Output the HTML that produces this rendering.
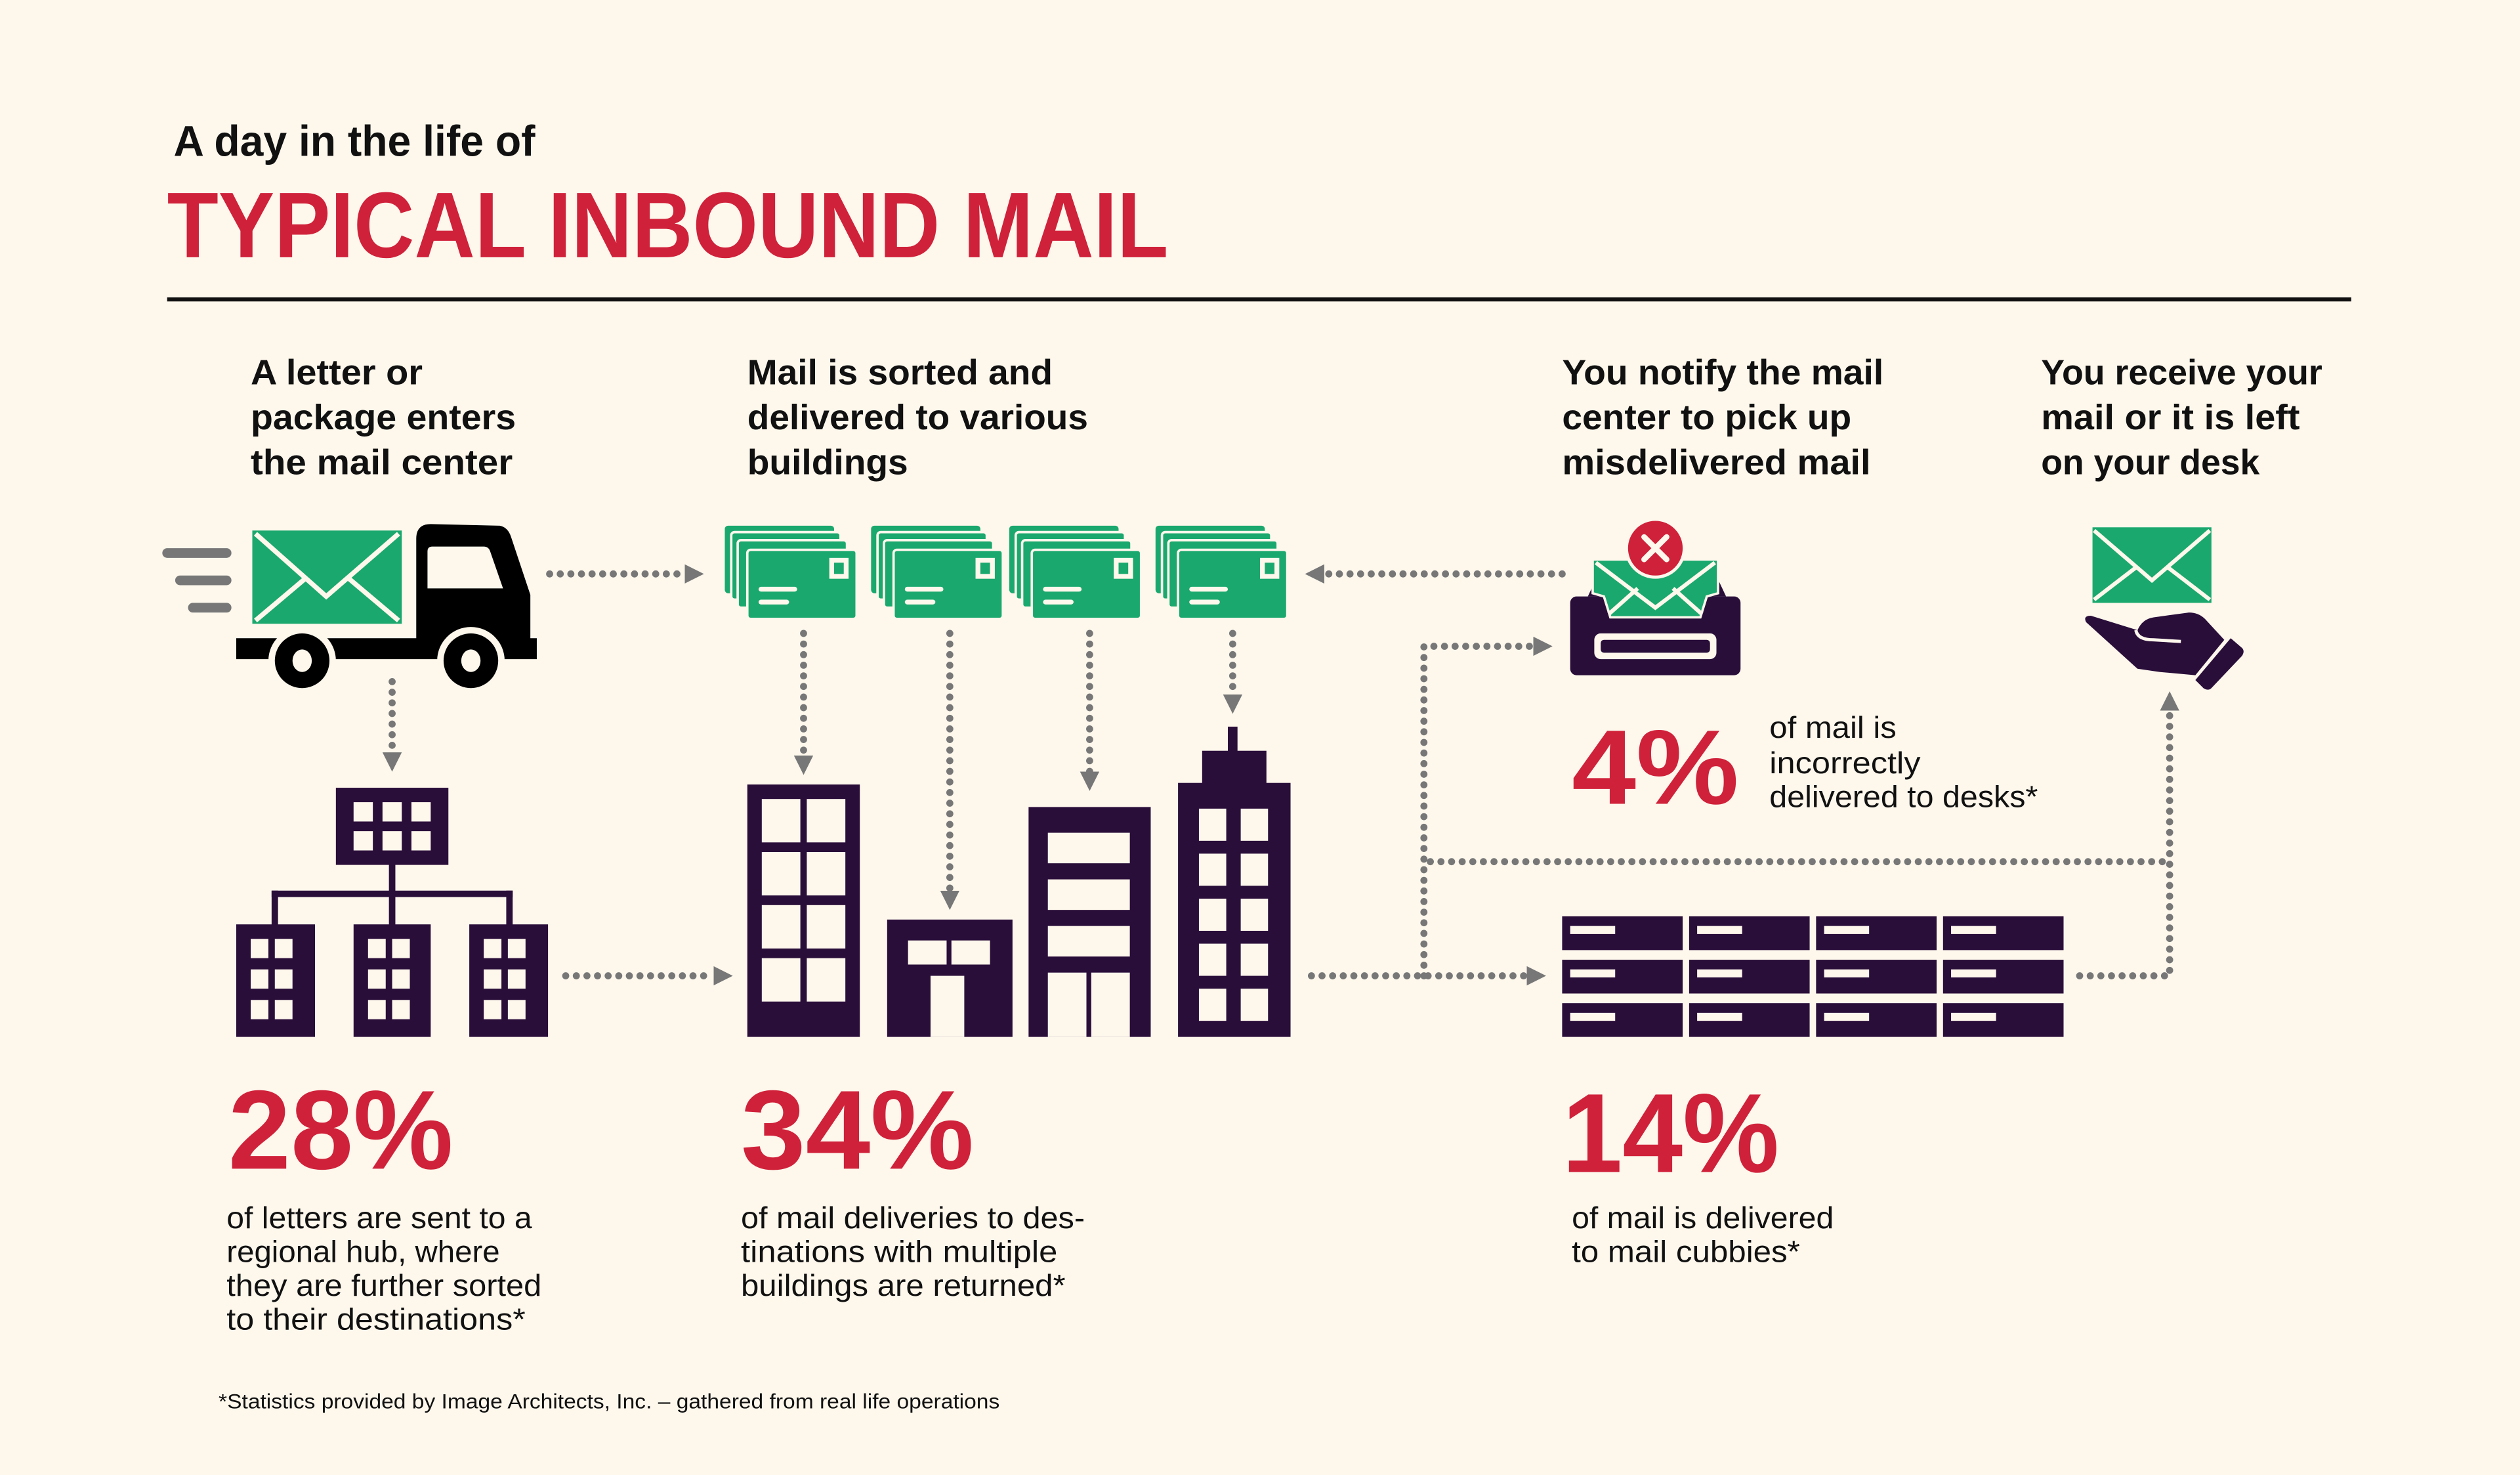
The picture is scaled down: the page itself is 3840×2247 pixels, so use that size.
<!DOCTYPE html>
<html><head><meta charset="utf-8"><style>
html,body{margin:0;padding:0;background:#fdf7ec;}
svg{display:block;}
text{font-family:"Liberation Sans",sans-serif;}
</style></head><body>
<svg width="3840" height="2247" viewBox="0 0 1568 917.5" xmlns="http://www.w3.org/2000/svg">
<defs>
<marker id="ah" viewBox="0 0 10 10" refX="0" refY="5" markerWidth="12" markerHeight="12" markerUnits="userSpaceOnUse" orient="auto"><path d="M0,0 L10,5 L0,10 z" fill="#777"/></marker>
</defs>
<rect width="1568" height="918" fill="#fdf7ec"/>
<text x="108" y="97" font-size="27" font-weight="bold" fill="#111" textLength="225" lengthAdjust="spacingAndGlyphs">A day in the life of</text>
<text x="104" y="160" font-size="58" font-weight="bold" fill="#d0213a" textLength="623" lengthAdjust="spacingAndGlyphs">TYPICAL INBOUND MAIL</text>
<rect x="104" y="185" width="1359" height="2.5" fill="#111"/>
<g font-size="22" font-weight="bold" fill="#111">
<text x="156" y="239" textLength="107" lengthAdjust="spacingAndGlyphs">A letter or</text>
<text x="156" y="267" textLength="165" lengthAdjust="spacingAndGlyphs">package enters</text>
<text x="156" y="295" textLength="163" lengthAdjust="spacingAndGlyphs">the mail center</text>
<text x="465" y="239" textLength="190" lengthAdjust="spacingAndGlyphs">Mail is sorted and</text>
<text x="465" y="267" textLength="212" lengthAdjust="spacingAndGlyphs">delivered to various</text>
<text x="465" y="295" textLength="100" lengthAdjust="spacingAndGlyphs">buildings</text>
<text x="972" y="239" textLength="200" lengthAdjust="spacingAndGlyphs">You notify the mail</text>
<text x="972" y="267" textLength="180" lengthAdjust="spacingAndGlyphs">center to pick up</text>
<text x="972" y="295" textLength="192" lengthAdjust="spacingAndGlyphs">misdelivered mail</text>
<text x="1270" y="239" textLength="175" lengthAdjust="spacingAndGlyphs">You receive your</text>
<text x="1270" y="267" textLength="161" lengthAdjust="spacingAndGlyphs">mail or it is left</text>
<text x="1270" y="295" textLength="136" lengthAdjust="spacingAndGlyphs">on your desk</text>
</g>
<g fill="none" stroke="#777" stroke-width="4.4" stroke-linecap="round" stroke-dasharray="0 6.6">
<path d="M342,357 L426,357" marker-end="url(#ah)"/>
<path d="M972,357 L824,357" marker-end="url(#ah)"/>
<path d="M244,424 L244,468" marker-end="url(#ah)"/>
<path d="M500,394 L500,470" marker-end="url(#ah)"/>
<path d="M591,394 L591,554" marker-end="url(#ah)"/>
<path d="M678,394 L678,480" marker-end="url(#ah)"/>
<path d="M767,394 L767,432" marker-end="url(#ah)"/>
<path d="M352,607 L444,607" marker-end="url(#ah)"/>
<path d="M816,607 L950,607" marker-end="url(#ah)"/>
<path d="M886,607 L886,402 L954,402" marker-end="url(#ah)"/>
<path d="M890,536 L1350,536"/>
<path d="M1294,607 L1350,607 L1350,442" marker-end="url(#ah)"/>
</g>
<g stroke="#777" stroke-width="6" stroke-linecap="round">
<line x1="104" y1="344" x2="141" y2="344"/>
<line x1="112" y1="361" x2="141" y2="361"/>
<line x1="120" y1="378" x2="141" y2="378"/>
</g>
<g>
<path d="M259,335 Q259,326 268,326 L311,327 Q316,328 318,334 L330,370 L330,397 L334,397 L334,410 L147,410 L147,397 L259,397 Z" fill="#000"/>
<path d="M266,343 Q266,340 269,340 L301,340 Q304,340 305,343 L313,366 L266,366 Z" fill="#fdf7ec"/>
<circle cx="188" cy="411" r="21" fill="#fdf7ec"/><circle cx="188" cy="411" r="17" fill="#000"/><ellipse cx="188" cy="411" rx="6" ry="7" fill="#fdf7ec"/>
<circle cx="293" cy="411" r="21" fill="#fdf7ec"/><circle cx="293" cy="411" r="17" fill="#000"/><ellipse cx="293" cy="411" rx="6" ry="7" fill="#fdf7ec"/>
<rect x="157" y="330" width="93" height="58" fill="#1aa86e"/>
<path d="M159,332 L203,371 L248,332 M159,386 L191,359 M248,386 L216,359" fill="none" stroke="#fdf7ec" stroke-width="3"/>
</g>
<g id="stk">
<rect x="451" y="327" width="68" height="42" rx="2" fill="#1aa86e"/>
<rect x="455" y="331" width="68" height="42" rx="2" fill="#1aa86e" stroke="#fdf7ec" stroke-width="1.5"/>
<rect x="459" y="336" width="68" height="42" rx="2" fill="#1aa86e" stroke="#fdf7ec" stroke-width="1.5"/>
<rect x="465" y="342" width="68" height="43" rx="2" fill="#1aa86e" stroke="#fdf7ec" stroke-width="1.5"/>
<rect x="516" y="347" width="12" height="13" fill="#fdf7ec"/><rect x="519" y="350" width="6" height="7" fill="#1aa86e"/>
<rect x="472" y="365" width="24" height="3" rx="1.5" fill="#fdf7ec"/>
<rect x="472" y="373" width="19" height="3" rx="1.5" fill="#fdf7ec"/>
</g>
<use href="#stk" x="91"/>
<use href="#stk" x="177"/>
<use href="#stk" x="268"/>
<g fill="#2a0e3a">
<rect x="209" y="490" width="70" height="48"/>
<rect x="242" y="536" width="4" height="40"/>
<rect x="169" y="554" width="150" height="4"/>
<rect x="169" y="554" width="4" height="22"/><rect x="315" y="554" width="4" height="22"/>
<rect x="147" y="575" width="49" height="70"/>
<rect x="220" y="575" width="48" height="70"/>
<rect x="292" y="575" width="49" height="70"/>
</g>
<g fill="#fdf7ec">
<rect x="220" y="499" width="12" height="12"/><rect x="238" y="499" width="12" height="12"/><rect x="256" y="499" width="12" height="12"/>
<rect x="220" y="517" width="12" height="12"/><rect x="238" y="517" width="12" height="12"/><rect x="256" y="517" width="12" height="12"/>
</g>
<g id="hb" fill="#fdf7ec">
<rect x="156" y="584" width="11" height="12"/><rect x="171" y="584" width="11" height="12"/>
<rect x="156" y="603" width="11" height="12"/><rect x="171" y="603" width="11" height="12"/>
<rect x="156" y="622" width="11" height="12"/><rect x="171" y="622" width="11" height="12"/>
</g>
<use href="#hb" x="73"/><use href="#hb" x="145"/>
<g fill="#2a0e3a">
<rect x="465" y="488" width="70" height="157"/>
<rect x="552" y="572" width="78" height="73"/>
<rect x="640" y="502" width="76" height="143"/>
<rect x="733" y="487" width="70" height="158"/>
<rect x="748" y="467" width="40" height="22"/>
<rect x="764" y="452" width="6" height="17"/>
</g>
<g fill="#fdf7ec">
<rect x="474" y="497" width="24" height="27"/><rect x="502" y="497" width="24" height="27"/>
<rect x="474" y="530" width="24" height="27"/><rect x="502" y="530" width="24" height="27"/>
<rect x="474" y="563" width="24" height="27"/><rect x="502" y="563" width="24" height="27"/>
<rect x="474" y="596" width="24" height="27"/><rect x="502" y="596" width="24" height="27"/>
<rect x="565" y="585" width="24" height="15"/><rect x="592" y="585" width="24" height="15"/>
<rect x="579" y="607" width="21" height="38"/>
<rect x="652" y="518" width="51" height="19"/>
<rect x="652" y="547" width="51" height="19"/>
<rect x="652" y="576" width="51" height="19"/>
<rect x="652" y="605" width="24" height="40"/><rect x="679" y="605" width="24" height="40"/>
<rect x="746" y="503" width="17" height="20"/><rect x="772" y="503" width="17" height="20"/>
<rect x="746" y="531" width="17" height="20"/><rect x="772" y="531" width="17" height="20"/>
<rect x="746" y="559" width="17" height="20"/><rect x="772" y="559" width="17" height="20"/>
<rect x="746" y="587" width="17" height="20"/><rect x="772" y="587" width="17" height="20"/>
<rect x="746" y="615" width="17" height="20"/><rect x="772" y="615" width="17" height="20"/>
</g>
<g>
<path d="M988,371 L996,354 L1066,354 L1074,371 Z" fill="#2a0e3a"/>
<rect x="977" y="371" width="106" height="49" rx="4" fill="#2a0e3a"/>
<rect x="992" y="394" width="76" height="16" rx="4" fill="#fdf7ec"/>
<rect x="996" y="398" width="68" height="8" rx="2" fill="#2a0e3a"/>
<path d="M991,348 L1069,348 L1069,369 L1062,371 L1058,384 L1002,384 L998,371 L991,369 Z" fill="#1aa86e" stroke="#fdf7ec" stroke-width="1.5"/>
<path d="M993,350 L1030,378 L1067,350 M1001,382 L1019,366 M1059,382 L1041,366" fill="none" stroke="#fdf7ec" stroke-width="2.5"/>
<circle cx="1030" cy="341" r="18" fill="#d0213a" stroke="#fdf7ec" stroke-width="2"/>
<path d="M1023,334 L1037,348 M1037,334 L1023,348" stroke="#fdf7ec" stroke-width="3.5" stroke-linecap="round"/>
</g>
<g>
<rect x="1302" y="328" width="74" height="47" fill="#1aa86e"/>
<path d="M1303,330 L1339,361 L1375,330 M1303,373 L1329,353 M1375,373 L1349,353" fill="none" stroke="#fdf7ec" stroke-width="2.5"/>
<path d="M1298,387 Q1296,383 1301,383 L1330,392 Q1333,385 1340,384 L1362,381 Q1368,381 1372,385 L1384,398 L1366,420 L1344,418 L1330,416 Z" fill="#2a0e3a"/>
<path d="M1329,392 Q1330,398 1340,398 L1357,399" fill="none" stroke="#fdf7ec" stroke-width="2"/>
<path d="M1388,397 L1395,403 Q1397,405 1395,408 L1376,428 Q1374,430 1371,428 L1366,423 Z" fill="#2a0e3a"/>
</g>
<g id="cub">
<rect x="972" y="570" width="75" height="21" fill="#2a0e3a"/>
<rect x="977" y="576" width="28" height="5" fill="#fdf7ec"/>
</g>
<use href="#cub" x="79"/><use href="#cub" x="158"/><use href="#cub" x="237"/>
<use href="#cub" y="27"/><use href="#cub" x="79" y="27"/><use href="#cub" x="158" y="27"/><use href="#cub" x="237" y="27"/>
<use href="#cub" y="54"/><use href="#cub" x="79" y="54"/><use href="#cub" x="158" y="54"/><use href="#cub" x="237" y="54"/>
<g font-weight="bold" fill="#d0213a">
<text x="142" y="727" font-size="70" textLength="140" lengthAdjust="spacingAndGlyphs">28%</text>
<text x="461" y="727" font-size="70" textLength="145" lengthAdjust="spacingAndGlyphs">34%</text>
<text x="972" y="729" font-size="70" textLength="135" lengthAdjust="spacingAndGlyphs">14%</text>
<text x="978" y="500" font-size="66" textLength="104" lengthAdjust="spacingAndGlyphs">4%</text>
</g>
<g font-size="19" fill="#111">
<text x="141" y="764" textLength="190" lengthAdjust="spacingAndGlyphs">of letters are sent to a</text>
<text x="141" y="785" textLength="170" lengthAdjust="spacingAndGlyphs">regional hub, where</text>
<text x="141" y="806" textLength="196" lengthAdjust="spacingAndGlyphs">they are further sorted</text>
<text x="141" y="827" textLength="186" lengthAdjust="spacingAndGlyphs">to their destinations*</text>
<text x="461" y="764" textLength="214" lengthAdjust="spacingAndGlyphs">of mail deliveries to des-</text>
<text x="461" y="785" textLength="197" lengthAdjust="spacingAndGlyphs">tinations with multiple</text>
<text x="461" y="806" textLength="202" lengthAdjust="spacingAndGlyphs">buildings are returned*</text>
<text x="978" y="764" textLength="163" lengthAdjust="spacingAndGlyphs">of mail is delivered</text>
<text x="978" y="785" textLength="142" lengthAdjust="spacingAndGlyphs">to mail cubbies*</text>
<text x="1101" y="459" textLength="79" lengthAdjust="spacingAndGlyphs">of mail is</text>
<text x="1101" y="481" textLength="94" lengthAdjust="spacingAndGlyphs">incorrectly</text>
<text x="1101" y="502" textLength="167" lengthAdjust="spacingAndGlyphs">delivered to desks*</text>
</g>
<text x="136" y="876" font-size="13" fill="#111" textLength="486" lengthAdjust="spacingAndGlyphs">*Statistics provided by Image Architects, Inc. – gathered from real life operations</text>
</svg>
</body></html>
